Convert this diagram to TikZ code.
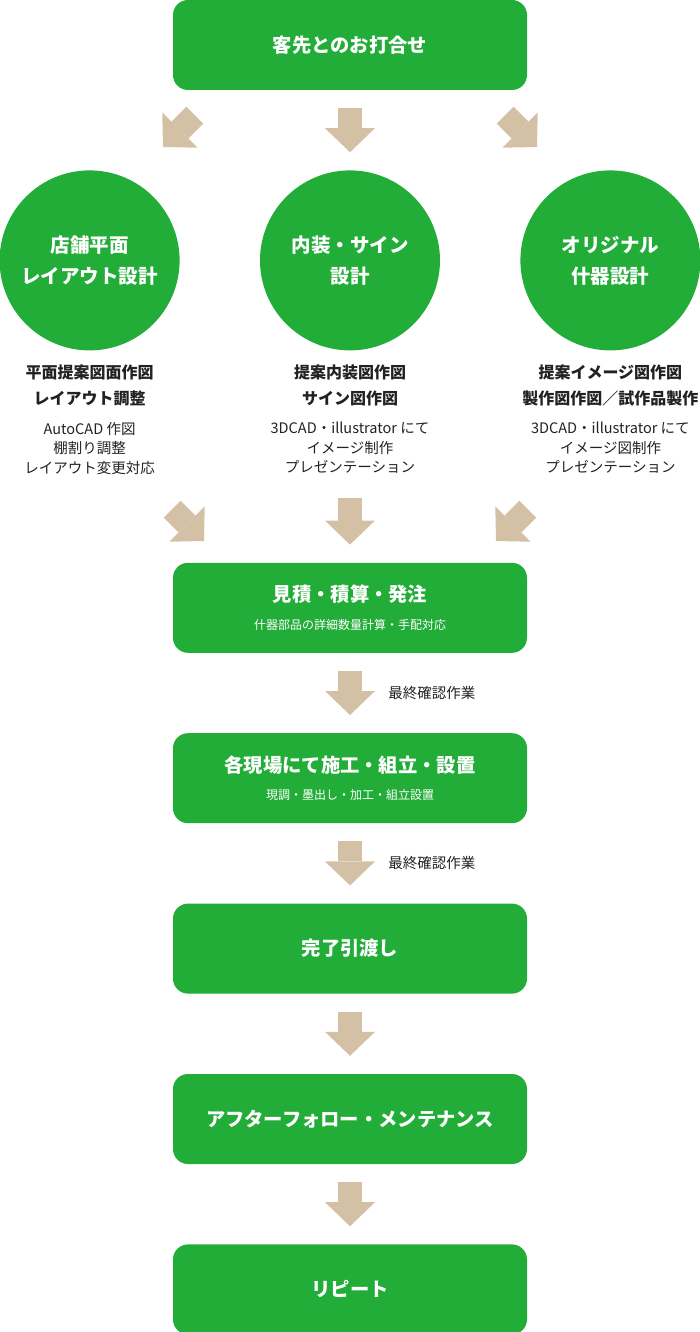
\documentclass[tikz,border=0pt]{standalone}
\usepackage{fontspec}
\setmainfont{Noto Sans CJK JP}
\usetikzlibrary{arrows.meta, positioning}

\definecolor{kgreen}{RGB}{34,172,56}
\definecolor{ktan}{RGB}{211,192,165}
\definecolor{ktext}{HTML}{222222}

\begin{document}
\begin{tikzpicture}[
        x=1pt, y=-1pt,
        node distance=80pt,
        stepbox/.style={rectangle, rounded corners=15pt, fill=kgreen, minimum width=354pt, minimum height=90pt, align=center, text=white, font=\fontsize{19.3}{23}\selectfont\bfseries},
        phase/.style={circle, fill=kgreen, minimum size=180pt, inner sep=0pt, align=center, text=white, font=\fontsize{19.5}{31}\selectfont\bfseries},
        task/.style={align=center, text=ktext, font=\fontsize{16}{26}\selectfont\bfseries},
        detail/.style={align=center, text=ktext, font=\fontsize{14.5}{19.5}\selectfont},
        note/.style={text=ktext, outer sep=0pt, font=\fontsize{14.5}{17}\selectfont},
        flow/.style={line width=24pt, draw=ktan, -{Triangle[width=50pt, length=24pt, line width=0pt]}, shorten <=18pt, shorten >=18pt}
    ]
    \useasboundingbox (0,0) rectangle (700,1332);

    % Início
    \node[stepbox] (meeting) at (350,45) {客先とのお打合せ};

    % Três frentes de projeto
    \node[phase, below=80pt of meeting] (interior) {内装・サイン\\設計};
    \node[phase, left=80pt of interior] (layout) {店舗平面\\レイアウト設計};
    \node[phase, right=80pt of interior] (fixture) {オリジナル\\什器設計};

    % Textos sob os círculos
    \node[task, below=35pt of layout.south, anchor=center] (layoutT) {平面提案図面作図\\レイアウト調整};
    \node[task, below=35pt of interior.south, anchor=center] (interiorT) {提案内装図作図\\サイン図作図};
    \node[task, below=35pt of fixture.south, anchor=center] (fixtureT) {提案イメージ図作図\\製作図作図／試作品製作};
    \node[detail, below=97.5pt of layout.south, anchor=center] (layoutD) {AutoCAD 作図\\棚割り調整\\レイアウト変更対応};
    \node[detail, below=97.5pt of interior.south, anchor=center] (interiorD) {3DCAD・illustrator にて\\イメージ制作\\プレゼンテーション};
    \node[detail, below=97.5pt of fixture.south, anchor=center] (fixtureD) {3DCAD・illustrator にて\\イメージ図制作\\プレゼンテーション};

    % Etapas seguintes
    \node[stepbox, below=212pt of interior] (estimate) {見積・積算・発注\\[4.5pt]{\mdseries\fontsize{12}{14}\selectfont 什器部品の詳細数量計算・手配対応}};
    \node[stepbox, below=of estimate] (install) {各現場にて施工・組立・設置\\[4.5pt]{\mdseries\fontsize{12}{14}\selectfont 現調・墨出し・加工・組立設置}};
    \node[stepbox, below=of install] (handover) {完了引渡し};
    \node[stepbox, below=of handover] (aftercare) {アフターフォロー・メンテナンス};
    \node[stepbox, below=of aftercare] (repeatbox) {リピート};

    % Setas diagonais (pontas fixas)
    \coordinate (toLayoutS) at (194.8,115.2);
    \coordinate (toLayoutE) at (163,147);
    \coordinate (toFixtureS) at (505.2,115.2);
    \coordinate (toFixtureE) at (537,147);
    \coordinate (fromLayoutS) at (172.2,509.2);
    \coordinate (fromLayoutE) at (204,541);
    \coordinate (fromFixtureS) at (527.8,509.2);
    \coordinate (fromFixtureE) at (496,541);

    % Ligações
    \draw[flow] (meeting) -- (interior);
    \draw[flow, shorten <=0pt, shorten >=0pt] (toLayoutS) -- (toLayoutE);
    \draw[flow, shorten <=0pt, shorten >=0pt] (toFixtureS) -- (toFixtureE);
    \draw[flow, shorten <=21pt] (interiorD) -- (estimate);
    \draw[flow, shorten <=0pt, shorten >=0pt] (fromLayoutS) -- (fromLayoutE);
    \draw[flow, shorten <=0pt, shorten >=0pt] (fromFixtureS) -- (fromFixtureE);
    \draw[flow] (estimate) -- node[note, anchor=west, xshift=35pt] (check1) {最終確認作業} (install);
    \draw[flow] (install) -- node[note, anchor=west, xshift=35pt] (check2) {最終確認作業} (handover);
    \draw[flow] (handover) -- (aftercare);
    \draw[flow] (aftercare) -- (repeatbox);

\end{tikzpicture}
\end{document}
